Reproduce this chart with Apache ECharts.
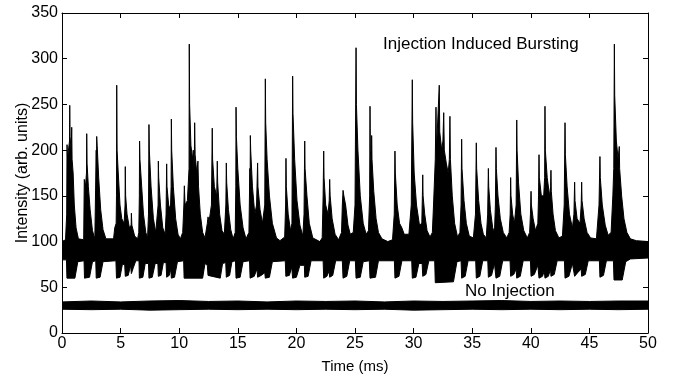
<!DOCTYPE html>
<html lang="en">
<head>
    <meta charset="UTF-8">
    <title>Injection Induced Bursting</title>
    <script src="https://cdn.jsdelivr.net/npm/echarts@6/dist/echarts.min.js"></script>
</head>
<body style="margin:0">
<div id="main" style="width:673px; height:379px;"></div>
<script>
    // upper edge of the bursting trace, [time ms, intensity]
    var burstUpper = [
        [0, 100], [0.30, 102], [0.40, 130], [0.43, 206], [0.47, 190], [0.55, 200], [0.64, 210], [0.66, 249], [0.69, 215],
        [0.78, 200], [0.83, 225], [0.86, 190], [0.95, 175], [1.05, 140], [1.2, 115], [1.4, 103],
        [1.85, 102], [1.9, 168], [2.0, 160], [2.09, 175], [2.11, 218], [2.14, 185], [2.25, 160], [2.4, 135], [2.6, 112], [2.8, 103],
        [2.85, 104], [2.92, 200], [2.94, 150], [2.96, 215], [3.0, 205], [3.13, 170], [3.3, 135], [3.5, 113], [3.75, 103],
        [4.4, 103], [4.5, 115], [4.62, 120], [4.65, 150], [4.67, 271], [4.70, 200], [4.8, 175], [4.95, 140], [5.1, 125],
        [5.3, 120], [5.38, 140], [5.40, 182], [5.43, 150], [5.55, 130], [5.75, 115], [5.9, 118], [5.92, 131], [5.96, 118],
        [6.2, 106], [6.45, 103],
        [6.55, 110], [6.6, 150], [6.62, 210], [6.65, 190], [6.8, 160], [6.95, 130], [7.15, 110], [7.3, 104],
        [7.38, 130], [7.42, 228], [7.45, 200], [7.6, 160], [7.8, 125], [8.0, 110], [8.12, 112],
        [8.2, 140], [8.22, 188], [8.25, 170], [8.4, 140], [8.6, 115], [8.8, 108],
        [8.88, 130], [8.93, 185], [8.96, 160], [9.1, 140], [9.25, 135], [9.31, 160], [9.33, 234], [9.36, 200], [9.5, 160],
        [9.7, 125], [9.9, 108], [10.1, 103],
        [10.3, 110], [10.4, 140], [10.44, 161], [10.5, 140], [10.7, 145], [10.84, 180], [10.86, 316], [10.89, 250], [11.0, 205],
        [11.15, 190], [11.2, 200], [11.25, 180], [11.3, 200], [11.32, 230], [11.36, 195], [11.5, 175], [11.6, 188], [11.65, 160],
        [11.8, 130], [12.0, 110],
        [12.2, 104], [12.4, 120], [12.46, 127], [12.55, 122], [12.75, 140], [12.82, 224], [12.85, 190], [13.0, 160], [13.2, 150],
        [13.25, 188], [13.28, 165], [13.45, 130], [13.65, 112], [13.85, 108],
        [13.98, 140], [14.02, 186], [14.05, 165], [14.2, 135], [14.4, 113], [14.6, 103],
        [14.78, 110], [14.83, 160], [14.85, 247], [14.88, 215], [15.0, 180], [15.2, 140], [15.45, 115], [15.7, 103],
        [15.95, 110], [16.03, 180], [16.05, 150], [16.07, 216], [16.10, 200], [16.25, 160], [16.45, 130], [16.6, 140],
        [16.69, 186], [16.72, 160], [16.9, 135], [17.1, 120], [17.3, 140],
        [17.35, 278], [17.38, 230], [17.5, 190], [17.7, 150], [17.95, 120], [18.3, 104], [18.6, 101],
        [19.0, 105], [19.08, 140], [19.11, 191], [19.14, 160], [19.3, 130], [19.5, 112], [19.62, 120],
        [19.68, 281], [19.71, 240], [19.85, 190], [20.05, 145], [20.3, 118], [20.55, 106], [20.65, 130],
        [20.71, 210], [20.74, 180], [20.9, 150], [21.1, 120], [21.4, 104], [22.0, 100],
        [22.2, 104], [22.28, 150], [22.33, 199], [22.36, 170], [22.5, 140], [22.7, 130], [22.8, 145], [22.84, 168], [22.88, 150],
        [23.05, 125], [23.3, 108], [23.6, 102],
        [23.85, 110], [23.92, 140], [23.98, 156], [24.05, 150], [24.2, 140], [24.4, 118], [24.6, 108], [24.85, 110], [25.0, 140],
        [25.09, 312], [25.12, 250], [25.25, 200], [25.45, 150], [25.7, 120], [25.95, 108], [26.15, 112],
        [26.25, 150], [26.28, 248], [26.31, 200], [26.4, 180], [26.42, 216], [26.45, 190], [26.6, 155], [26.8, 125], [27.0, 110],
        [27.3, 103], [27.8, 100], [28.2, 102],
        [28.35, 130], [28.41, 199], [28.44, 175], [28.6, 140], [28.8, 120], [29.0, 115], [29.2, 108], [29.6, 108], [29.8, 140],
        [29.89, 277], [29.92, 230], [30.05, 175], [30.25, 140], [30.5, 118], [30.7, 120], [30.75, 150],
        [30.78, 173], [30.81, 150], [30.95, 130], [31.15, 112], [31.4, 105], [31.6, 110],
        [31.7, 140], [31.85, 190], [31.91, 247], [31.95, 200], [32.1, 200], [32.19, 271], [32.23, 220], [32.4, 200], [32.5, 210],
        [32.57, 241], [32.62, 200], [32.8, 185], [32.95, 175], [33.05, 190], [33.1, 237], [33.14, 190], [33.3, 150], [33.5, 120],
        [33.75, 105], [33.95, 110],
        [34.05, 140], [34.1, 212], [34.13, 180], [34.3, 145], [34.5, 120], [34.75, 106], [35.1, 104],
        [35.28, 130], [35.35, 208], [35.38, 180], [35.55, 145], [35.75, 120], [35.95, 108], [36.2, 104],
        [36.32, 130], [36.38, 180], [36.41, 160], [36.55, 135], [36.75, 115], [36.9, 110],
        [36.98, 140], [37.03, 203], [37.06, 180], [37.2, 150], [37.4, 125], [37.65, 110], [37.95, 104], [38.15, 110],
        [38.24, 130], [38.28, 170], [38.31, 150], [38.45, 130], [38.6, 120], [38.75, 140],
        [38.8, 233], [38.83, 200], [38.95, 165], [39.15, 130], [39.4, 112], [39.7, 104], [39.9, 110],
        [39.97, 130], [40.02, 155], [40.05, 140], [40.2, 125], [40.4, 112], [40.6, 120],
        [40.66, 150], [40.7, 195], [40.73, 170], [40.9, 150], [41.1, 150], [41.18, 170],
        [41.21, 248], [41.24, 200], [41.4, 170], [41.6, 150], [41.69, 160], [41.72, 178], [41.75, 155], [41.9, 130], [42.1, 112],
        [42.4, 104], [42.7, 106], [42.85, 140],
        [42.92, 230], [42.95, 195], [43.1, 160], [43.3, 130], [43.55, 115], [43.68, 130],
        [43.74, 165], [43.77, 145], [43.95, 125], [44.2, 120], [44.3, 140],
        [44.34, 165], [44.37, 145], [44.55, 125], [44.8, 110], [45.1, 104], [45.6, 103], [45.82, 140],
        [45.9, 193], [45.93, 170], [46.1, 140], [46.35, 118], [46.6, 107], [46.85, 110], [47.0, 150], [47.08, 180],
        [47.13, 316], [47.16, 260], [47.3, 210], [47.45, 190], [47.55, 204], [47.58, 180], [47.75, 150], [47.95, 125],
        [48.2, 110], [48.5, 103], [49, 101], [50, 100]
    ];

    // lower edge of the bursting trace
    var burstLower = [
        [0, 80], [0.38, 80], [0.42, 60], [1.1, 60], [1.35, 78],
        [1.88, 79], [1.92, 60], [2.35, 61], [2.6, 78],
        [2.88, 79], [2.92, 60], [3.25, 61], [3.5, 78],
        [4.6, 79], [4.65, 60], [4.95, 61], [5.15, 75], [5.35, 75], [5.4, 62], [5.65, 63], [5.85, 74], [5.92, 65], [6.1, 72], [6.3, 79],
        [6.57, 79], [6.6, 60], [6.9, 61], [7.1, 76], [7.38, 76], [7.42, 60], [7.7, 61], [7.95, 76], [8.18, 76], [8.22, 62],
        [8.45, 63], [8.65, 77], [8.88, 77], [8.93, 61], [9.15, 63], [9.28, 70], [9.33, 60], [9.6, 61], [9.85, 78],
        [10.38, 79], [10.42, 60], [12.0, 60], [12.2, 76], [12.4, 74], [12.46, 63], [13.5, 60], [13.7, 76],
        [13.97, 77], [14.02, 61], [14.3, 63], [14.5, 78],
        [14.8, 79], [14.85, 60], [15.2, 61], [15.45, 78],
        [16.0, 79], [16.05, 60], [16.4, 62], [16.64, 70], [16.69, 61], [17.0, 63], [17.3, 66], [17.35, 60], [17.7, 61], [17.95, 78],
        [19.05, 79], [19.1, 62], [19.4, 63], [19.6, 72], [19.68, 60], [20.0, 61], [20.3, 74], [20.68, 74], [20.71, 61],
        [21.0, 62], [21.25, 79],
        [22.28, 79], [22.33, 60], [22.6, 62], [22.8, 68], [22.84, 61], [23.1, 63], [23.35, 79],
        [23.92, 79], [23.98, 60], [24.3, 62], [24.55, 79],
        [25.03, 79], [25.09, 60], [25.45, 61], [25.7, 78],
        [26.22, 79], [26.28, 60], [26.75, 61], [27.0, 79],
        [28.36, 79], [28.41, 60], [28.75, 62], [29.0, 79],
        [29.84, 79], [29.89, 60], [30.2, 61], [30.45, 76], [30.73, 76], [30.78, 62], [31.05, 64], [31.3, 79],
        [31.8, 79], [31.85, 55], [33.4, 56], [33.7, 78],
        [34.05, 79], [34.1, 60], [34.4, 62], [34.65, 79],
        [35.3, 79], [35.35, 60], [35.65, 62], [35.9, 79],
        [36.33, 79], [36.38, 61], [36.65, 63], [36.9, 76], [36.98, 76], [37.03, 60], [37.35, 62], [37.6, 79],
        [38.23, 79], [38.28, 62], [38.55, 64], [38.75, 70], [38.8, 60], [39.1, 62], [39.35, 79],
        [39.97, 79], [40.02, 62], [40.3, 64], [40.6, 74], [40.7, 60], [41.0, 62], [41.15, 68], [41.21, 60], [41.5, 62],
        [41.68, 70], [41.72, 62], [42.0, 64], [42.25, 79],
        [42.87, 79], [42.92, 60], [43.25, 62], [43.55, 76], [43.74, 62], [44.0, 66], [44.3, 70], [44.34, 62], [44.65, 64], [44.9, 79],
        [45.85, 79], [45.9, 61], [46.2, 63], [46.45, 79],
        [47.05, 79], [47.1, 58], [47.8, 58], [48.1, 78], [48.5, 81], [50, 82]
    ];

    // no injection trace: upper and lower edge
    var quietUpper = [[0, 34], [2.5, 35], [5, 34], [7.5, 35], [10, 35.5], [12.5, 34.5], [15, 35], [17.5, 34], [20, 35],
        [22.5, 34.5], [25, 35], [27.5, 34], [30, 35], [32.5, 34.5], [35, 35], [37.5, 35.5], [40, 34.5], [42.5, 35],
        [45, 34.5], [47.5, 35], [50, 35]];
    var quietLower = [[0, 26], [2.5, 25.5], [5, 26], [7.5, 25], [10, 25.5], [12.5, 26], [15, 25.5], [17.5, 26], [20, 25.5],
        [22.5, 26], [25, 25.5], [27.5, 26], [30, 25], [32.5, 25.5], [35, 26], [37.5, 25.5], [40, 26], [42.5, 25.5],
        [45, 26], [47.5, 25.5], [50, 26]];

    var timeTicks = [0, 5, 10, 15, 20, 25, 30, 35, 40, 45, 50];
    var intensityTicks = [0, 50, 100, 150, 200, 250, 300, 350];

    var myChart = echarts.init(document.getElementById('main'));
    var font = 'Liberation Sans';

    function axisX(pos, labels) {
        return {
            type: 'value', position: pos, min: timeTicks[0], max: timeTicks[timeTicks.length - 1], interval: 5,
            z: 10,
            axisLine: {onZero: false, lineStyle: {color: '#000', width: 1}},
            axisTick: {inside: true, length: 5, lineStyle: {color: '#000'}},
            axisLabel: {show: labels, color: '#000', fontFamily: font, fontSize: 16, margin: 3},
            splitLine: {show: false},
            name: labels ? 'Time (ms)' : '', nameLocation: 'middle', nameGap: 26, nameMoveOverlap: false,
            nameTextStyle: {color: '#000', fontFamily: font, fontSize: 15}
        };
    }
    function axisY(pos, labels) {
        return {
            type: 'value', position: pos, min: intensityTicks[0], max: intensityTicks[intensityTicks.length - 1], interval: 50,
            z: 10,
            axisLine: {onZero: false, lineStyle: {color: '#000', width: 1}},
            axisTick: {inside: true, length: 5, lineStyle: {color: '#000'}},
            axisLabel: {show: labels, color: '#000', fontFamily: font, fontSize: 16, margin: 4},
            splitLine: {show: false},
            name: labels ? 'Intensity (arb. units)' : '', nameLocation: 'middle', nameGap: 31, nameMoveOverlap: false,
            nameTextStyle: {color: '#000', fontFamily: font, fontSize: 16}
        };
    }

    function band(data, fill, z) {
        return {
            type: 'line', data: data, xAxisIndex: 0, yAxisIndex: 0, z: z,
            showSymbol: false, symbol: 'none', sampling: false, silent: true,
            lineStyle: {color: '#000', width: 1},
            areaStyle: {color: fill, opacity: 1, origin: 'start'}
        };
    }

    var option = {
        animation: false,
        backgroundColor: '#fff',
        grid: {left: 62, right: 25, top: 13, bottom: 46, containLabel: false, outerBoundsMode: 'none'},
        xAxis: [axisX('bottom', true), axisX('top', false)],
        yAxis: [axisY('left', true), axisY('right', false)],
        graphic: [
            {type: 'text', left: 383, top: 36, z: 20,
                style: {text: 'Injection Induced Bursting', fill: '#000', font: '17px "Liberation Sans"'}},
            {type: 'text', left: 465, top: 283, z: 20,
                style: {text: 'No Injection', fill: '#000', font: '17px "Liberation Sans"'}}
        ],
        series: [
            band(burstUpper, '#000', 2),
            band(burstLower, '#fff', 3),
            band(quietUpper, '#000', 4),
            band(quietLower, '#fff', 5)
        ]
    };
    myChart.setOption(option);
</script>
</body>
</html>
